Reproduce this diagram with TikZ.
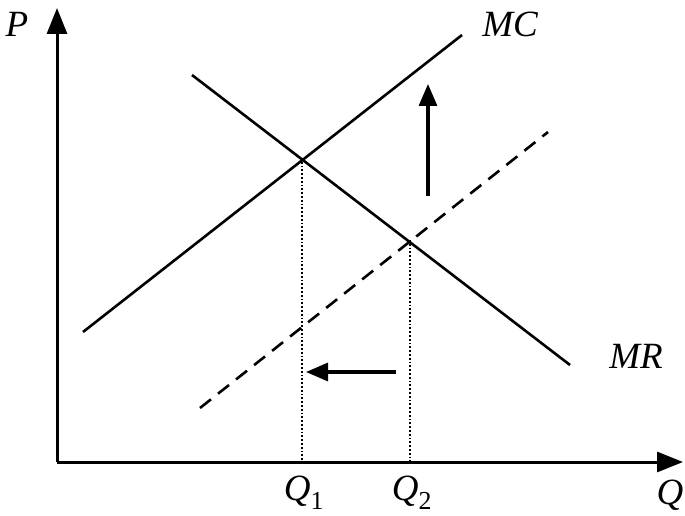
\documentclass[tikz,border=0pt]{standalone}
\usepackage{fontspec}
\setmainfont{Liberation Serif}
\usetikzlibrary{arrows.meta}
\begin{document}
\begin{tikzpicture}[x=1pt,y=-1pt,
  curve/.style={line width=2.6pt},
  axis/.style={line width=3pt,-{Triangle[length=26pt,width=20pt]}},
  movearrow/.style={line width=3.2pt,-{Triangle[length=22pt,width=18pt]}},
  guide/.style={line width=1.8pt,dotted},
  lbl/.style={font=\fontsize{37}{40}\selectfont\itshape,inner sep=0pt}]
\useasboundingbox (0,0) rectangle (685,516);
\coordinate (O) at (57,462);
\coordinate (Ytop) at (57,8);
\coordinate (Xend) at (683,462);
\draw[axis] (O) -- (Ytop);
\draw[axis] (O) -- (Xend);
\coordinate (mc1) at (83,332); \coordinate (mc2) at (462,35);
\coordinate (mr1) at (192,75); \coordinate (mr2) at (570,365);
\coordinate (d1) at (200,408); \coordinate (d2) at (548,132);
\draw[curve] (mc1) -- (mc2);
\draw[curve] (mr1) -- (mr2);
\draw[curve,dash pattern=on 14pt off 9pt] (d1) -- (d2);
\coordinate (e1) at (302,158); \coordinate (b1) at (302,462);
\coordinate (e2) at (410,240); \coordinate (b2) at (410,462);
\draw[guide] (e1) -- (b1);
\draw[guide] (e2) -- (b2);
\coordinate (u1) at (428,196); \coordinate (u2) at (428,84);
\draw[movearrow] (u1) -- (u2);
\coordinate (l1) at (396,372); \coordinate (l2) at (306,372);
\draw[movearrow] (l1) -- (l2);
\node[lbl] (P) at (17,24) {P};
\node[lbl] (MC) at (510,24) {MC};
\node[lbl] (MR) at (636,356) {MR};
\node[lbl] (Q1) at (304,493) {Q\textsubscript{\upshape 1}};
\node[lbl] (Q2) at (412,493) {Q\textsubscript{\upshape 2}};
\node[lbl] (Q) at (670,495) {Q};
\end{tikzpicture}
\end{document}
